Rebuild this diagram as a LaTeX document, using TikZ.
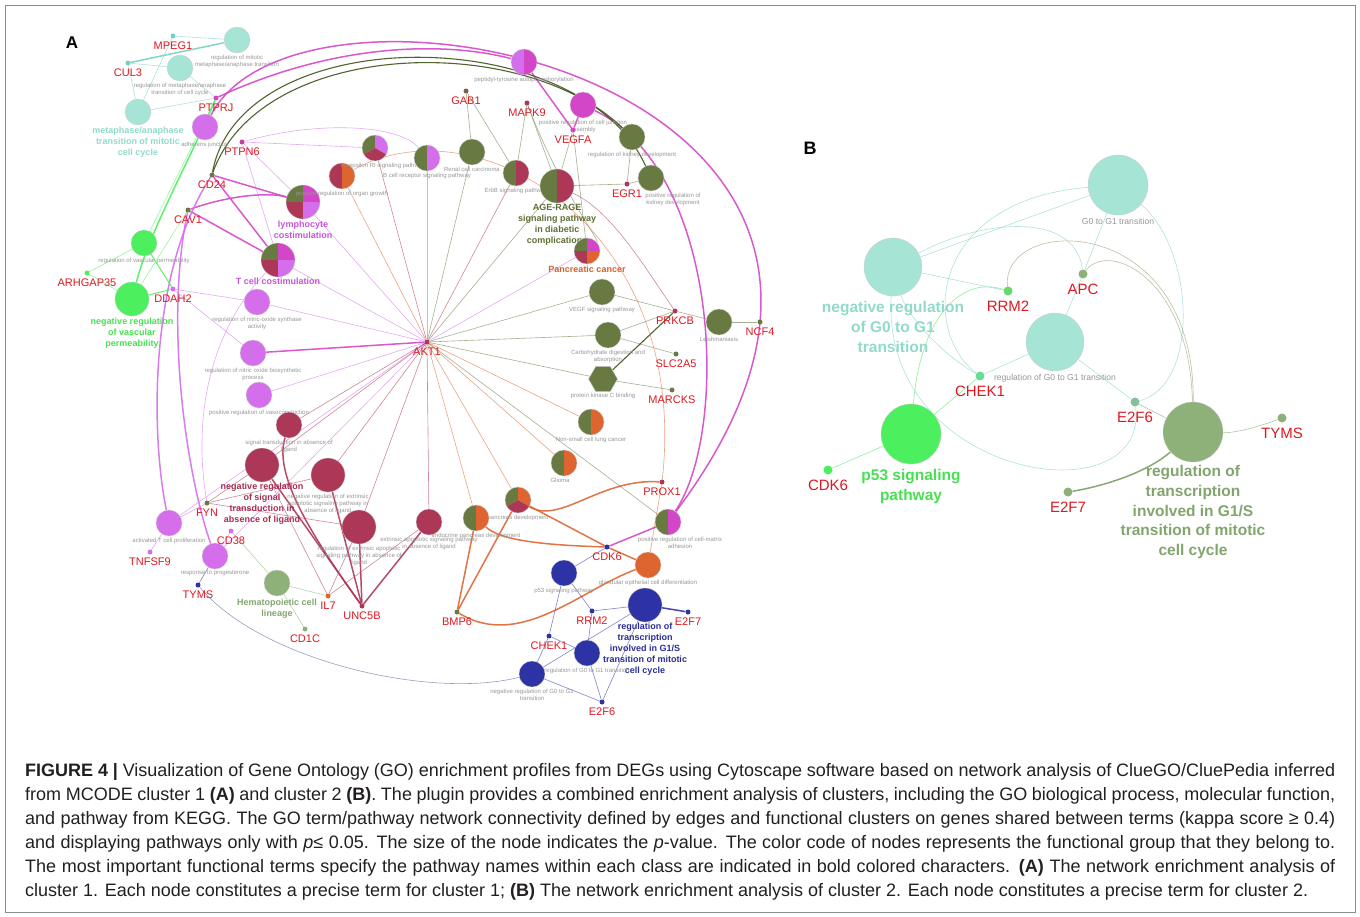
\documentclass[tikz,border=0pt]{standalone}
\usepackage{fontspec}
\setmainfont{Liberation Sans}
\usetikzlibrary{positioning, shapes.geometric, backgrounds}

\definecolor{cyanT}{RGB}{166,228,214}
\definecolor{cyanE}{RGB}{120,208,188}
\definecolor{cyanB}{RGB}{145,218,202}
\definecolor{magT}{RGB}{212,70,200}
\definecolor{vioT}{RGB}{212,110,235}
\definecolor{vioB}{RGB}{195,85,215}
\definecolor{greenT}{RGB}{76,240,94}
\definecolor{greenE}{RGB}{70,225,88}
\definecolor{greenB}{RGB}{70,225,80}
\definecolor{oliveT}{RGB}{104,122,66}
\definecolor{oliveE}{RGB}{140,150,100}
\definecolor{oliveB}{RGB}{95,110,55}
\definecolor{darkOl}{RGB}{62,82,24}
\definecolor{crimT}{RGB}{172,55,86}
\definecolor{crimB}{RGB}{165,45,80}
\definecolor{orangeT}{RGB}{222,100,48}
\definecolor{orangeB}{RGB}{215,95,40}
\definecolor{blueT}{RGB}{45,50,165}
\definecolor{blueB}{RGB}{40,45,150}
\definecolor{sageT}{RGB}{142,177,122}
\definecolor{sageE}{RGB}{120,160,100}
\definecolor{sageB}{RGB}{130,165,110}
\definecolor{geneRed}{RGB}{222,24,32}
\definecolor{labGray}{RGB}{150,150,150}
\definecolor{capText}{RGB}{35,31,32}

\newcommand{\gfontA}{\fontsize{11}{12}\selectfont}
\newcommand{\tfontA}{\fontsize{6}{7}\selectfont}
\newcommand{\bfontA}{\fontsize{9}{11}\selectfont\bfseries}
\newcommand{\gfontB}{\fontsize{15}{16}\selectfont}
\newcommand{\tfontB}{\fontsize{8.6}{10}\selectfont}
\newcommand{\bfontB}{\fontsize{15.5}{19.8}\selectfont\bfseries}
\newcommand{\capfont}{\fontsize{18}{24}\selectfont}
\newcommand{\slice}[3]{\fill[#1] (path picture bounding box.center) -- +(#2:40pt) -- +({(#2+#3)/2}:40pt) -- +(#3:40pt) -- cycle;}

\begin{document}
\begin{tikzpicture}[x=1pt,y=-1pt]
 \tikzset{
 	term/.style={circle,inner sep=0pt,minimum size=26pt,draw=black!20,line width=0.3pt},
 	big/.style={minimum size=34pt},
 	plain term/.style={term,fill=#1},
 	half term/.style 2 args={term,path picture={\slice{#1}{90}{270}\slice{#2}{-90}{90}}},
 	third term/.style n args={3}{term,path picture={\slice{#1}{90}{210}\slice{#2}{-30}{90}\slice{#3}{210}{330}}},
 	quad term/.style n args={4}{term,path picture={\slice{#1}{90}{180}\slice{#2}{0}{90}\slice{#3}{180}{270}\slice{#4}{270}{360}}},
 	gene/.style={circle,inner sep=0pt,minimum size=5pt,fill=#1},
 	gene label/.style={text=geneRed,font=\gfontA,inner sep=0pt},
 	term label/.style={text=labGray,font=\tfontA,align=center,inner sep=0pt},
 	key label/.style={text=#1,font=\bfontA,align=center,inner sep=0pt},
 	light edge/.style={draw=#1,line width=0.6pt,opacity=0.6},
 	heavy edge/.style={draw=#1,line width=1.5pt,opacity=0.9}
 }
 \useasboundingbox (0,0) rectangle (1360,916);
 \draw[black!45,line width=1pt] (5,5) rectangle (1355,912);

 % panel A: terms
 \node[font=\fontsize{17}{17}\selectfont\bfseries] (labA) at (72,43) {A};
 \node[plain term=cyanT] (tMito) at (237,40) {};
 \node[term label,below=1.5pt of tMito] (lMito) {regulation of mitotic\\metaphase/anaphase transition};
 \node[plain term=cyanT] (tMeta) at (180,68) {};
 \node[term label,below=1.5pt of tMeta] (lMeta) {regulation of metaphase/anaphase\\transition of cell cycle};
 \node[plain term=cyanT] (tMetaMit) at (138,112) {};
 \node[key label=cyanB,below=2pt of tMetaMit] (lMetaMit) {metaphase/anaphase\\transition of mitotic\\cell cycle};
 \node[plain term=vioT] (tAdh) at (205,127) {};
 \node[term label,below=1.5pt of tAdh] (lAdh) {adherens junction};
 \node[plain term=greenT] (tVasc) at (144,243) {};
 \node[term label,below=1.5pt of tVasc] (lVasc) {regulation of vascular permeability};
 \node[plain term=greenT,big] (tNegVasc) at (132,299) {};
 \node[key label=greenB,below=2pt of tNegVasc] (lNegVasc) {negative regulation\\of vascular\\permeability};
 \node[quad term={oliveT}{magT}{crimT}{vioT},big] (tLymph) at (303,202) {};
 \node[key label=vioB,below=1.5pt of tLymph] (lLymph) {lymphocyte\\costimulation};
 \node[quad term={oliveT}{magT}{crimT}{vioT},big] (tTcell) at (278,260) {};
 \node[key label=vioB,below=1pt of tTcell] (lTcell) {T cell costimulation};
 \node[plain term=vioT] (tNOS) at (257,302) {};
 \node[term label,below=1.5pt of tNOS] (lNOS) {regulation of nitric-oxide synthase\\activity};
 \node[plain term=vioT] (tNObio) at (253,353) {};
 \node[term label,below=1.5pt of tNObio] (lNObio) {regulation of nitric oxide biosynthetic\\process};
 \node[plain term=vioT] (tVaso) at (259,395) {};
 \node[term label,below=1.5pt of tVaso] (lVaso) {positive regulation of vasoconstriction};
 \node[plain term=crimT] (tSigAbs) at (289,425) {};
 \node[term label,below=1.5pt of tSigAbs] (lSigAbs) {signal transduction in absence of\\ligand};
 \node[plain term=crimT,big] (tNegSig) at (262,465) {};
 \node[key label=crimB,below=1pt of tNegSig] (lNegSig) {negative regulation\\of signal\\transduction in\\absence of ligand};
 \node[plain term=crimT,big] (tNegExt) at (328,475) {};
 \node[term label,below=1.5pt of tNegExt] (lNegExt) {negative regulation of extrinsic\\apoptotic signaling pathway in\\absence of ligand};
 \node[plain term=crimT,big] (tRegExt) at (359,527) {};
 \node[term label,below=1.5pt of tRegExt] (lRegExt) {regulation of extrinsic apoptotic\\signaling pathway in absence of\\ligand};
 \node[plain term=crimT] (tExt) at (429,522) {};
 \node[term label,below=1.5pt of tExt] (lExt) {extrinsic apoptotic signaling pathway\\in absence of ligand};
 \node[plain term=vioT] (tActT) at (169,523) {};
 \node[term label,below=1.5pt of tActT] (lActT) {activated T cell proliferation};
 \node[plain term=vioT] (tProg) at (215,556) {};
 \node[term label,below=1.5pt of tProg] (lProg) {response to progesterone};
 \node[plain term=sageT] (tHema) at (277,583) {};
 \node[key label=sageB,below=3pt of tHema] (lHema) {Hematopoietic cell\\lineage};
 \node[half term={crimT}{orangeT}] (tOrgan) at (342,176) {};
 \node[term label,below=1.5pt of tOrgan] (lOrgan) {positive regulation of organ growth};
 \node[third term={oliveT}{vioT}{crimT}] (tFc) at (375,148) {};
 \node[term label,below=1.5pt of tFc,xshift=8pt] (lFc) {Fc epsilon RI signaling pathway};
 \node[half term={oliveT}{vioT}] (tBcell) at (427,158) {};
 \node[term label,below=1.5pt of tBcell] (lBcell) {B cell receptor signaling pathway};
 \node[plain term=oliveT] (tRenal) at (472,152) {};
 \node[term label,below=1.5pt of tRenal] (lRenal) {Renal cell carcinoma};
 \node[half term={oliveT}{crimT}] (tErbB) at (516,173) {};
 \node[term label,below=1.5pt of tErbB] (lErbB) {ErbB signaling pathway};
 \node[half term={oliveT}{crimT},big] (tAGE) at (557,186) {};
 \node[key label=oliveB,below=1pt of tAGE] (lAGE) {AGE-RAGE\\signaling pathway\\in diabetic\\complications};
 \node[half term={vioT}{magT}] (tPept) at (524,62) {};
 \node[term label,below=1.5pt of tPept] (lPept) {peptidyl-tyrosine autophosphorylation};
 \node[plain term=magT] (tJunc) at (583,105) {};
 \node[term label,below=1.5pt of tJunc] (lJunc) {positive regulation of cell junction\\assembly};
 \node[plain term=oliveT] (tKid) at (632,137) {};
 \node[term label,below=1.5pt of tKid] (lKid) {regulation of kidney development};
 \node[plain term=oliveT] (tPosKid) at (651,178) {};
 \node[term label,below=1.5pt of tPosKid,xshift=22pt] (lPosKid) {positive regulation of\\kidney development};
 \node[quad term={oliveT}{magT}{crimT}{orangeT}] (tPanc) at (587,251) {};
 \node[key label=orangeB,below=2pt of tPanc] (lPanc) {Pancreatic cancer};
 \node[plain term=oliveT] (tVEGF) at (602,292) {};
 \node[term label,below=1.5pt of tVEGF] (lVEGF) {VEGF signaling pathway};
 \node[plain term=oliveT] (tLeish) at (719,322) {};
 \node[term label,below=1.5pt of tLeish] (lLeish) {Leishmaniasis};
 \node[plain term=oliveT] (tCarb) at (608,335) {};
 \node[term label,below=1.5pt of tCarb] (lCarb) {Carbohydrate digestion and\\absorption};
 \node[regular polygon,regular polygon sides=6,minimum size=29pt,inner sep=0pt,fill=oliveT,draw=black!20] (tPKC) at (603,379) {};
 \node[term label,below=1.5pt of tPKC] (lPKC) {protein kinase C binding};
 \node[half term={oliveT}{orangeT}] (tNSCLC) at (591,422) {};
 \node[term label,below=1.5pt of tNSCLC] (lNSCLC) {Non-small cell lung cancer};
 \node[half term={oliveT}{orangeT}] (tGlioma) at (564,463) {};
 \node[term label,below=1.5pt of tGlioma,xshift=-4pt] (lGlioma) {Glioma};
 \node[third term={oliveT}{orangeT}{crimT}] (tPancDev) at (518,500) {};
 \node[term label,below=1.5pt of tPancDev] (lPancDev) {pancreas development};
 \node[half term={oliveT}{orangeT}] (tEndo) at (476,518) {};
 \node[term label,below=1.5pt of tEndo] (lEndo) {endocrine pancreas development};
 \node[half term={oliveT}{magT}] (tMatrix) at (668,522) {};
 \node[term label,below=1.5pt of tMatrix,xshift=12pt] (lMatrix) {positive regulation of cell-matrix\\adhesion};
 \node[plain term=orangeT] (tGland) at (648,565) {};
 \node[term label,below=1.5pt of tGland] (lGland) {glandular epithelial cell differentiation};
 \node[plain term=blueT] (tP53) at (564,573) {};
 \node[term label,below=1.5pt of tP53] (lP53) {p53 signaling pathway};
 \node[plain term=blueT,big] (tTrans) at (645,605) {};
 \node[key label=blueB,below=1pt of tTrans] (lTrans) {regulation of\\transcription\\involved in G1/S\\transition of mitotic\\cell cycle};
 \node[plain term=blueT] (tRegG0) at (587,653) {};
 \node[term label,below=1.5pt of tRegG0] (lRegG0) {regulation of G0 to G1 transition};
 \node[plain term=blueT] (tNegG0) at (532,674) {};
 \node[term label,below=1.5pt of tNegG0] (lNegG0) {negative regulation of G0 to G1\\transition};

 % panel A: genes
 \node[gene=cyanE] (gMPEG1) at (173,36) {};
 \node[gene label,below=3pt of gMPEG1] (lMPEG1) {MPEG1};
 \node[gene=cyanE] (gCUL3) at (128,63) {};
 \node[gene label,below=3pt of gCUL3] (lCUL3) {CUL3};
 \node[gene=magT] (gPTPRJ) at (216,98) {};
 \node[gene label,below=3pt of gPTPRJ] (lPTPRJ) {PTPRJ};
 \node[gene=magT!60!crimT] (gPTPN6) at (242,142) {};
 \node[gene label,below=3pt of gPTPN6] (lPTPN6) {PTPN6};
 \node[gene=oliveT] (gCD24) at (212,175) {};
 \node[gene label,below=3pt of gCD24] (lCD24) {CD24};
 \node[gene=oliveT] (gCAV1) at (188,210) {};
 \node[gene label,below=3pt of gCAV1] (lCAV1) {CAV1};
 \node[gene=greenT] (gARHG) at (87,273) {};
 \node[gene label,below=3pt of gARHG] (lARHG) {ARHGAP35};
 \node[gene=vioT] (gDDAH2) at (173,289) {};
 \node[gene label,below=3pt of gDDAH2] (lDDAH2) {DDAH2};
 \node[gene=crimT] (gAKT1) at (427,342) {};
 \node[gene label,below=3pt of gAKT1] (lAKT1) {AKT1};
 \node[gene=oliveT] (gFYN) at (207,503) {};
 \node[gene label,below=3pt of gFYN] (lFYN) {FYN};
 \node[gene=vioT] (gTNFSF9) at (150,552) {};
 \node[gene label,below=3pt of gTNFSF9] (lTNFSF9) {TNFSF9};
 \node[gene=vioT] (gCD38) at (231,531) {};
 \node[gene label,below=3pt of gCD38] (lCD38) {CD38};
 \node[gene=blueT] (gTYMS) at (198,585) {};
 \node[gene label,below=3pt of gTYMS] (lTYMS) {TYMS};
 \node[gene=sageT] (gCD1C) at (305,629) {};
 \node[gene label,below=3pt of gCD1C] (lCD1C) {CD1C};
 \node[gene=orangeT] (gIL7) at (328,596) {};
 \node[gene label,below=3pt of gIL7] (lIL7) {IL7};
 \node[gene=crimT] (gUNC5B) at (362,606) {};
 \node[gene label,below=3pt of gUNC5B] (lUNC5B) {UNC5B};
 \node[gene=oliveT] (gBMP6) at (457,612) {};
 \node[gene label,below=3pt of gBMP6] (lBMP6) {BMP6};
 \node[gene=oliveT!60!crimT] (gGAB1) at (466,91) {};
 \node[gene label,below=3pt of gGAB1] (lGAB1) {GAB1};
 \node[gene=crimT] (gMAPK9) at (527,103) {};
 \node[gene label,below=3pt of gMAPK9] (lMAPK9) {MAPK9};
 \node[gene=magT] (gVEGFA) at (573,130) {};
 \node[gene label,below=3pt of gVEGFA] (lVEGFA) {VEGFA};
 \node[gene=crimT] (gEGR1) at (627,184) {};
 \node[gene label,below=3pt of gEGR1] (lEGR1) {EGR1};
 \node[gene=crimT] (gPRKCB) at (675,311) {};
 \node[gene label,below=3pt of gPRKCB] (lPRKCB) {PRKCB};
 \node[gene=oliveT] (gNCF4) at (760,322) {};
 \node[gene label,below=3pt of gNCF4] (lNCF4) {NCF4};
 \node[gene=oliveT] (gSLC2A5) at (676,354) {};
 \node[gene label,below=3pt of gSLC2A5] (lSLC2A5) {SLC2A5};
 \node[gene=oliveT] (gMARCKS) at (672,390) {};
 \node[gene label,below=3pt of gMARCKS] (lMARCKS) {MARCKS};
 \node[gene=crimT] (gPROX1) at (662,482) {};
 \node[gene label,below=3pt of gPROX1] (lPROX1) {PROX1};
 \node[gene=blueT] (gCDK6) at (607,547) {};
 \node[gene label,below=3pt of gCDK6] (lCDK6) {CDK6};
 \node[gene=blueT] (gE2F7) at (688,612) {};
 \node[gene label,below=3pt of gE2F7] (lE2F7) {E2F7};
 \node[gene=blueT] (gRRM2) at (592,611) {};
 \node[gene label,below=3pt of gRRM2] (lRRM2) {RRM2};
 \node[gene=blueT] (gCHEK1) at (549,636) {};
 \node[gene label,below=3pt of gCHEK1] (lCHEK1) {CHEK1};
 \node[gene=blueT] (gE2F6) at (602,702) {};
 \node[gene label,below=3pt of gE2F6] (lE2F6) {E2F6};

 % panel B
 \node[font=\fontsize{18}{18}\selectfont\bfseries] (labB) at (810,148) {B};
 \node[plain term=cyanT,minimum size=58pt] (bNeg) at (893,267) {};
 \node[key label=cyanB,font=\bfontB,below=5pt of bNeg] (lbNeg) {negative regulation\\of G0 to G1\\transition};
 \node[plain term=cyanT,minimum size=60pt] (bG0) at (1118,185) {};
 \node[term label,font=\tfontB,below=3pt of bG0] (lbG0) {G0 to G1 transition};
 \node[plain term=cyanT,minimum size=58pt] (bReg) at (1055,342) {};
 \node[term label,font=\tfontB,below=3pt of bReg] (lbReg) {regulation of G0 to G1 transition};
 \node[plain term=greenT,minimum size=60pt] (bP53) at (911,434) {};
 \node[key label=greenB,font=\bfontB,below=5pt of bP53] (lbP53) {p53 signaling\\pathway};
 \node[plain term=sageT,minimum size=60pt] (bTrans) at (1193,432) {};
 \node[key label=sageB,font=\bfontB,below=3pt of bTrans] (lbTrans) {regulation of\\transcription\\involved in G1/S\\transition of mitotic\\cell cycle};
 \node[gene=greenT!60!sageT,minimum size=9pt] (bRRM2) at (1008,291) {};
 \node[gene label,font=\gfontB,below=5pt of bRRM2] (lbRRM2) {RRM2};
 \node[gene=sageT,minimum size=9pt] (bAPC) at (1083,274) {};
 \node[gene label,font=\gfontB,below=5pt of bAPC] (lbAPC) {APC};
 \node[gene=cyanE!60!greenT,minimum size=9pt] (bCHEK1) at (980,376) {};
 \node[gene label,font=\gfontB,below=5pt of bCHEK1] (lbCHEK1) {CHEK1};
 \node[gene=greenT,minimum size=9pt] (bCDK6) at (828,470) {};
 \node[gene label,font=\gfontB,below=5pt of bCDK6] (lbCDK6) {CDK6};
 \node[gene=cyanE!50!sageT,minimum size=9pt] (bE2F6) at (1135,402) {};
 \node[gene label,font=\gfontB,below=5pt of bE2F6] (lbE2F6) {E2F6};
 \node[gene=sageT,minimum size=9pt] (bTYMS) at (1282,418) {};
 \node[gene label,font=\gfontB,below=5pt of bTYMS] (lbTYMS) {TYMS};
 \node[gene=sageT,minimum size=9pt] (bE2F7) at (1068,492) {};
 \node[gene label,font=\gfontB,below=5pt of bE2F7] (lbE2F7) {E2F7};

 % caption
 \node[anchor=north west,inner sep=0pt,align=left,text=capText,font=\capfont] (caption) at (25,763) {%
 \makebox[1310pt][s]{\textbf{FIGURE 4 |} Visualization of Gene Ontology (GO) enrichment profiles from DEGs using Cytoscape software based on network analysis of ClueGO/CluePedia inferred}\\
 \makebox[1310pt][s]{from MCODE cluster 1 \textbf{(A)} and cluster 2 \textbf{(B)}. The plugin provides a combined enrichment analysis of clusters, including the GO biological process, molecular function,}\\
 \makebox[1310pt][s]{and pathway from KEGG. The GO term/pathway network connectivity defined by edges and functional clusters on genes shared between terms (kappa score ≥ 0.4)}\\
 \makebox[1310pt][s]{and displaying pathways only with \textit{p}≤ 0.05. The size of the node indicates the \textit{p}-value. The color code of nodes represents the functional group that they belong to.}\\
 \makebox[1310pt][s]{The most important functional terms specify the pathway names within each class are indicated in bold colored characters. \textbf{(A)} The network enrichment analysis of}\\
 cluster 1. Each node constitutes a precise term for cluster 1; \textbf{(B)} The network enrichment analysis of cluster 2. Each node constitutes a precise term for cluster 2.};

 \begin{scope}[on background layer]
 % cyan cluster
     \path[light edge=cyanE] (gMPEG1) edge (tMito) (gCUL3) edge (tMeta) (gCUL3) edge (tMetaMit) (gMPEG1) edge (tMetaMit) (gPTPRJ) edge (tMetaMit) (gPTPRJ) edge (tMeta);
     \path[heavy edge=cyanE] (gCUL3) edge (tMito);
 % magenta and violet
     \draw[heavy edge=magT] (gPTPRJ) .. controls (330,45) and (440,40) .. (tPept);
     \draw[heavy edge=magT] (tAdh) .. controls (300,-60) and (1000,80) .. (tMatrix);
     \draw[heavy edge=magT] (tJunc) .. controls (720,170) and (730,430) .. (tMatrix);
     \path[heavy edge=magT] (gCD24) edge (tLymph) (gCD24) edge (tTcell) (gCAV1) edge (tTcell);
     \draw[heavy edge=magT] (gCAV1) .. controls (230,195) and (270,192) .. (tLymph);
     \path[heavy edge=magT] (gAKT1) edge (tNObio) (gCDK6) edge (tMatrix) (gVEGFA) edge (tJunc) (gVEGFA) edge (tPept);
     \draw[heavy edge=vioT] (gCD24) .. controls (150,270) and (150,430) .. (tActT);
     \draw[heavy edge=vioT] (gCAV1) .. controls (165,320) and (185,470) .. (tProg);
     \path[light edge=vioT] (gTNFSF9) edge (tActT) (gCD38) edge (tProg) (gDDAH2) edge (tNOS) (gDDAH2) edge (tNObio) (gPTPN6) edge (tLymph) (gPTPN6) edge (tFc) (gPTPN6) edge (tTcell) (gFYN) edge (tActT);
     \draw[light edge=vioT] (gPTPN6) .. controls (320,120) and (400,125) .. (tBcell);
     \draw[light edge=vioT] (gFYN) .. controls (190,400) and (220,320) .. (tTcell);
     \path[light edge=blueT] (gTYMS) edge (tProg);
 % green cluster
     \draw[heavy edge=greenT] (gPTPRJ) .. controls (190,160) and (150,230) .. (tNegVasc);
     \path[light edge=greenT] (gPTPRJ) edge (tVasc) (gARHG) edge (tVasc) (gARHG) edge (tNegVasc) (gCAV1) edge (tNegVasc);
     \path[heavy edge=greenT,line width=1pt] (gDDAH2) edge (tVasc) (gDDAH2) edge (tNegVasc);
 % olive cluster
     \draw[heavy edge=darkOl,line width=1.1pt] (gCD24) .. controls (260,40) and (520,30) .. (tKid);
     \draw[heavy edge=darkOl,line width=1.1pt] (gCD24) .. controls (240,20) and (580,20) .. (tPosKid);
     \path[light edge=oliveT] (gEGR1) edge (tKid) (gEGR1) edge (tPosKid) (gEGR1) edge (tAGE) (gGAB1) edge (tRenal) (gGAB1) edge (tErbB) (gMAPK9) edge (tErbB) (gMAPK9) edge (tAGE) (gVEGFA) edge (tAGE) (gVEGFA) edge (tPanc) (gPRKCB) edge (tVEGF) (gPRKCB) edge (tLeish) (gPRKCB) edge (tCarb) (gNCF4) edge (tLeish) (gSLC2A5) edge (tCarb) (gMARCKS) edge (tPKC);
     \path[heavy edge=darkOl,line width=1.1pt] (gPRKCB) edge (tPKC);
     \draw[light edge=crimT] (gPRKCB) .. controls (640,260) and (610,210) .. (tAGE);
     \draw[light edge=oliveT] (gMAPK9) .. controls (560,190) and (600,240) .. (tPanc);
     \draw[light edge=orangeT] (tOrgan) .. controls (480,100) and (690,230) .. (gPROX1);
 % crimson cluster
     \draw[heavy edge=crimT] (gUNC5B) .. controls (300,520) and (275,470) .. (tSigAbs);
     \path[heavy edge=crimT] (gUNC5B) edge (tNegSig) (gUNC5B) edge (tNegExt) (gUNC5B) edge (tRegExt) (gUNC5B) edge (tExt);
     \path[light edge=crimT] (gIL7) edge (tNegSig) (gIL7) edge (tRegExt) (gIL7) edge (tExt) (gFYN) edge (tNegSig) (gFYN) edge (tNegExt) (gFYN) edge (tRegExt);
     \path[light edge=sageT] (gIL7) edge (tHema) (gCD1C) edge (tHema) (gCD38) edge (tHema);
 % orange cluster
     \path[heavy edge=orangeT] (gBMP6) edge (tEndo) (gBMP6) edge (tPancDev) (gCDK6) edge (tPancDev) (gCDK6) edge (tGland);
     \draw[heavy edge=orangeT] (gBMP6) .. controls (520,650) and (580,590) .. (tGland);
     \draw[heavy edge=orangeT] (gPROX1) .. controls (600,478) and (560,525) .. (tPancDev);
     \draw[heavy edge=orangeT] (gCDK6) .. controls (540,545) and (500,540) .. (tEndo);
     \path[light edge=orangeT] (gPROX1) edge (tGland);
 % blue cluster
     \path[light edge=blueT] (gCDK6) edge (tP53) (gRRM2) edge (tP53) (gRRM2) edge (tTrans) (gRRM2) edge (tRegG0) (gCHEK1) edge (tP53) (gCHEK1) edge (tRegG0) (gCHEK1) edge (tNegG0) (gE2F6) edge (tRegG0) (gE2F6) edge (tNegG0) (gE2F6) edge (tTrans) (tNegG0) edge (tTrans);
     \path[heavy edge=blueT] (gE2F7) edge (tTrans);
     \draw[light edge=blueT!50!gray] (gTYMS) .. controls (260,660) and (430,700) .. (tNegG0);
 % AKT1 hub
     \path[light edge=vioT] (gAKT1) edge (tLymph) (gAKT1) edge (tTcell) (gAKT1) edge (tNOS) (gAKT1) edge (tVaso) (gAKT1) edge (tActT) (gAKT1) edge (tProg) (gAKT1) edge (tBcell) (gAKT1) edge (tPanc);
     \path[light edge=crimT] (gAKT1) edge (tSigAbs) (gAKT1) edge (tNegSig) (gAKT1) edge (tNegExt) (gAKT1) edge (tRegExt) (gAKT1) edge (tExt) (gAKT1) edge (tFc) (gAKT1) edge (tErbB);
     \path[light edge=oliveT] (gAKT1) edge (tRenal) (gAKT1) edge (tAGE) (gAKT1) edge (tVEGF) (gAKT1) edge (tCarb) (gAKT1) edge (tPKC) (gAKT1) edge (tMatrix);
     \path[light edge=orangeT] (gAKT1) edge (tOrgan) (gAKT1) edge (tNSCLC) (gAKT1) edge (tGlioma) (gAKT1) edge (tPancDev) (gAKT1) edge (tEndo);
 % panel B
     \path[light edge=greenE] (bCDK6) edge (bP53) (bCHEK1) edge (bP53);
     \draw[light edge=greenE] (bRRM2) .. controls (960,275) and (920,320) .. (bP53);
     \path[light edge=cyanE] (bCHEK1) edge (bReg) (bNeg) edge (bRRM2) (bAPC) edge (bG0) (bAPC) edge (bReg) (bReg) edge (bE2F6) (bNeg) edge (bG0);
     \draw[light edge=cyanE] (bCHEK1) .. controls (935,350) and (905,310) .. (bNeg);
     \draw[light edge=cyanE] (bCHEK1) .. controls (920,330) and (930,200) .. (bG0);
     \draw[light edge=cyanE] (bNeg) .. controls (980,220) and (1075,210) .. (bAPC);
     \draw[light edge=cyanE] (bE2F6) .. controls (1200,385) and (1195,250) .. (bG0);
     \draw[light edge=cyanE] (bE2F6) .. controls (1150,520) and (880,480) .. (bNeg);
     \draw[light edge=oliveE] (bRRM2) .. controls (1000,215) and (1195,210) .. (bTrans);
     \draw[light edge=oliveE] (bAPC) .. controls (1110,240) and (1190,280) .. (bTrans);
     \path[light edge=sageE] (bE2F6) edge (bTrans);
     \draw[light edge=sageE] (bTYMS) .. controls (1250,430) and (1230,433) .. (bTrans);
     \draw[heavy edge=sageE] (bE2F7) .. controls (1110,485) and (1150,470) .. (bTrans);
 \end{scope}
\end{tikzpicture}
\end{document}
